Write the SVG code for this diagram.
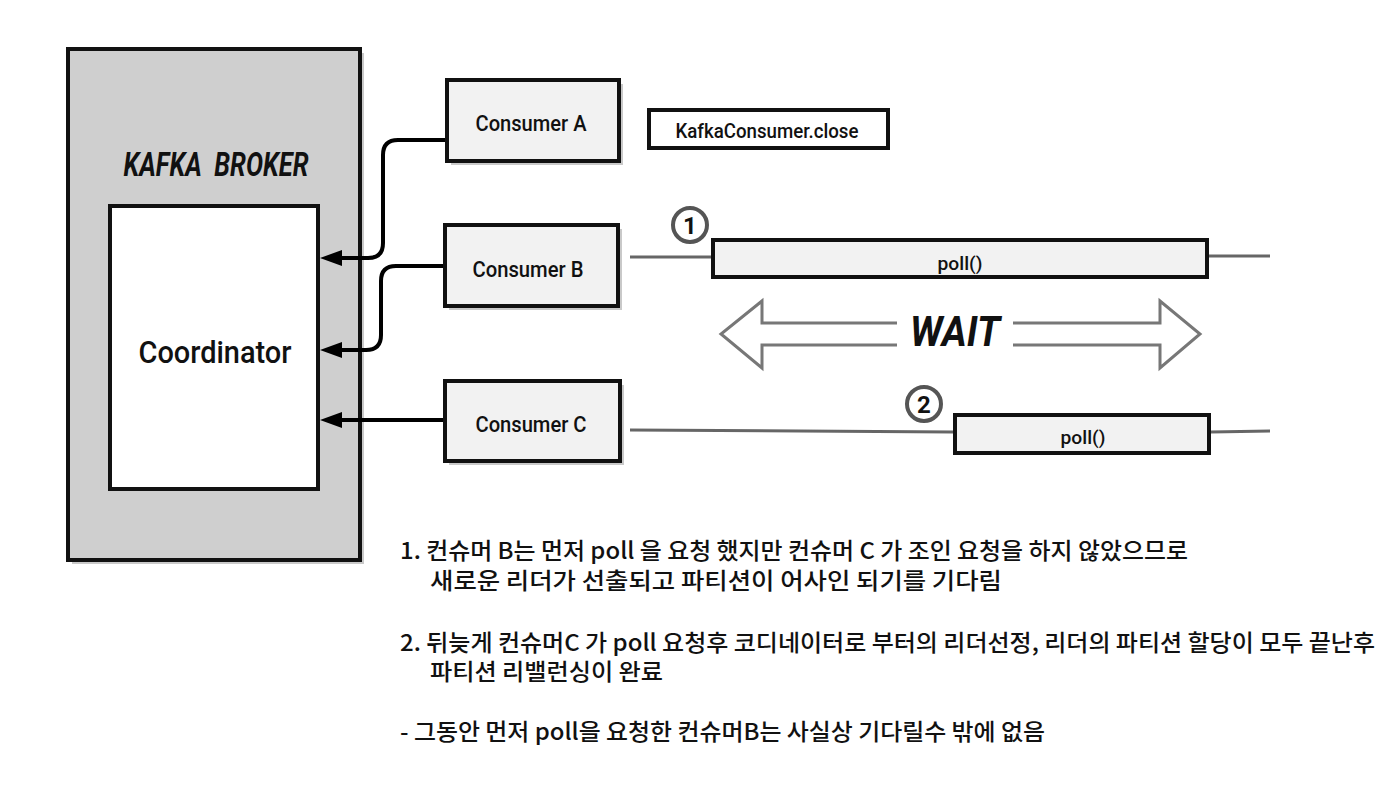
<svg xmlns="http://www.w3.org/2000/svg" width="1400" height="796" viewBox="0 0 1400 796">
<style>
.box{fill:#f2f2f2;stroke:#111;stroke-width:4}
.shadow{fill:#c9c9c9}
.lbl{font-family:Roboto,"Liberation Sans",sans-serif;fill:#111;text-anchor:middle;font-weight:500}
.conn{fill:none;stroke:#000;stroke-width:4}
.tl{fill:none;stroke:#666;stroke-width:3}
.wait{fill:#fff;stroke:#777;stroke-width:3;stroke-linejoin:miter}
.num{fill:#fff;stroke:#555;stroke-width:4}
.kr{font-family:"Noto Sans CJK KR",Roboto,sans-serif;font-size:23px;fill:#111;font-weight:500}
</style>
<defs>
<marker id="ah" markerUnits="userSpaceOnUse" markerWidth="24" markerHeight="18" refX="12" refY="8" orient="auto">
<path d="M0,0 L22,8 L0,16 z" fill="#000"/>
</marker>
</defs>
<rect width="1400" height="796" fill="#fff"/>

<g id="broker">
<rect class="shadow" x="72" y="53" width="292" height="511"/>
<rect x="68" y="49" width="292" height="511" fill="#cfcfcf" stroke="#111" stroke-width="4"/>
<text class="lbl" x="216" y="176" font-size="33" font-weight="bold" font-style="italic" textLength="185" lengthAdjust="spacingAndGlyphs" style="white-space:pre;font-weight:bold">KAFKA  BROKER</text>
</g>

<g id="coordinator">
<rect x="110" y="206" width="208" height="283" fill="#fff" stroke="#111" stroke-width="4"/>
<text class="lbl" x="215" y="363" font-size="31" textLength="153" lengthAdjust="spacingAndGlyphs">Coordinator</text>
</g>

<g id="consumerA">
<rect class="shadow" x="451" y="84" width="172" height="81"/>
<rect class="box" x="447" y="80" width="172" height="81"/>
<text class="lbl" x="531" y="131" font-size="22" textLength="111" lengthAdjust="spacingAndGlyphs">Consumer A</text>
</g>

<g id="close">
<rect x="649" y="110" width="239" height="38" fill="#fff" stroke="#111" stroke-width="4"/>
<text class="lbl" x="767" y="138" font-size="21" textLength="183" lengthAdjust="spacingAndGlyphs">KafkaConsumer.close</text>
</g>

<g id="consumerB">
<rect class="shadow" x="449" y="229" width="173" height="81"/>
<rect class="box" x="445" y="225" width="173" height="81"/>
<text class="lbl" x="528" y="277" font-size="22" textLength="111" lengthAdjust="spacingAndGlyphs">Consumer B</text>
</g>

<g id="consumerC">
<rect class="shadow" x="449" y="385" width="175" height="80"/>
<rect class="box" x="445" y="381" width="175" height="80"/>
<text class="lbl" x="531" y="432" font-size="22" textLength="111" lengthAdjust="spacingAndGlyphs">Consumer C</text>
</g>

<g id="connectors">
<path class="conn" d="M445,140 H398 Q383,140 383,155 V243 Q383,258 368,258 H330" marker-end="url(#ah)"/>
<path class="conn" d="M443,266 H396 Q381,266 381,281 V335 Q381,350 366,350 H330" marker-end="url(#ah)"/>
<path class="conn" d="M443,420 H330" marker-end="url(#ah)"/>
</g>

<g id="timelines">
<path class="tl" d="M630,257 H711"/>
<path class="tl" d="M1209,256 H1270"/>
<path class="tl" d="M630,430 L953,432"/>
<path class="tl" d="M1211,432 L1270,431"/>
</g>

<g id="poll1">
<rect x="713" y="240" width="494" height="37" fill="#f2f2f2" stroke="#111" stroke-width="4"/>
<text class="lbl" x="960" y="270" font-size="19" textLength="45" lengthAdjust="spacingAndGlyphs">poll()</text>
</g>

<g id="poll2">
<rect x="955" y="415" width="254" height="38" fill="#f2f2f2" stroke="#111" stroke-width="4"/>
<text class="lbl" x="1083" y="444" font-size="19" textLength="45" lengthAdjust="spacingAndGlyphs">poll()</text>
</g>

<g id="marker1">
<circle class="num" cx="690" cy="225" r="17"/>
<text class="lbl" x="690" y="234" font-size="24" style="font-weight:bold">1</text>
</g>

<g id="marker2">
<circle class="num" cx="924" cy="404" r="17"/>
<text class="lbl" x="924" y="413" font-size="24" style="font-weight:bold">2</text>
</g>

<g id="wait">
<path class="wait" d="M897,323 H762 V301 L721,334 L762,368 V345 H897"/>
<path class="wait" d="M1013,323 H1160 V301 L1200,334 L1160,368 V345 H1013"/>
<text class="lbl" x="955" y="346" font-size="42" font-style="italic" textLength="90" lengthAdjust="spacingAndGlyphs" style="font-weight:bold">WAIT</text>
</g>

<g id="notes">
<text class="kr" x="400" y="559" textLength="788" lengthAdjust="spacingAndGlyphs">1. 컨슈머 B는 먼저 poll 을 요청 했지만 컨슈머 C 가 조인 요청을 하지 않았으므로</text>
<text class="kr" x="430" y="589" textLength="572" lengthAdjust="spacingAndGlyphs">새로운 리더가 선출되고 파티션이 어사인 되기를 기다림</text>
<text class="kr" x="400" y="651" textLength="975" lengthAdjust="spacingAndGlyphs">2. 뒤늦게 컨슈머C 가 poll 요청후 코디네이터로 부터의 리더선정, 리더의 파티션 할당이 모두 끝난후</text>
<text class="kr" x="430" y="680" textLength="233" lengthAdjust="spacingAndGlyphs">파티션 리밸런싱이 완료</text>
<text class="kr" x="400" y="740" textLength="645" lengthAdjust="spacingAndGlyphs">- 그동안 먼저 poll을 요청한 컨슈머B는 사실상 기다릴수 밖에 없음</text>
</g>
</svg>
